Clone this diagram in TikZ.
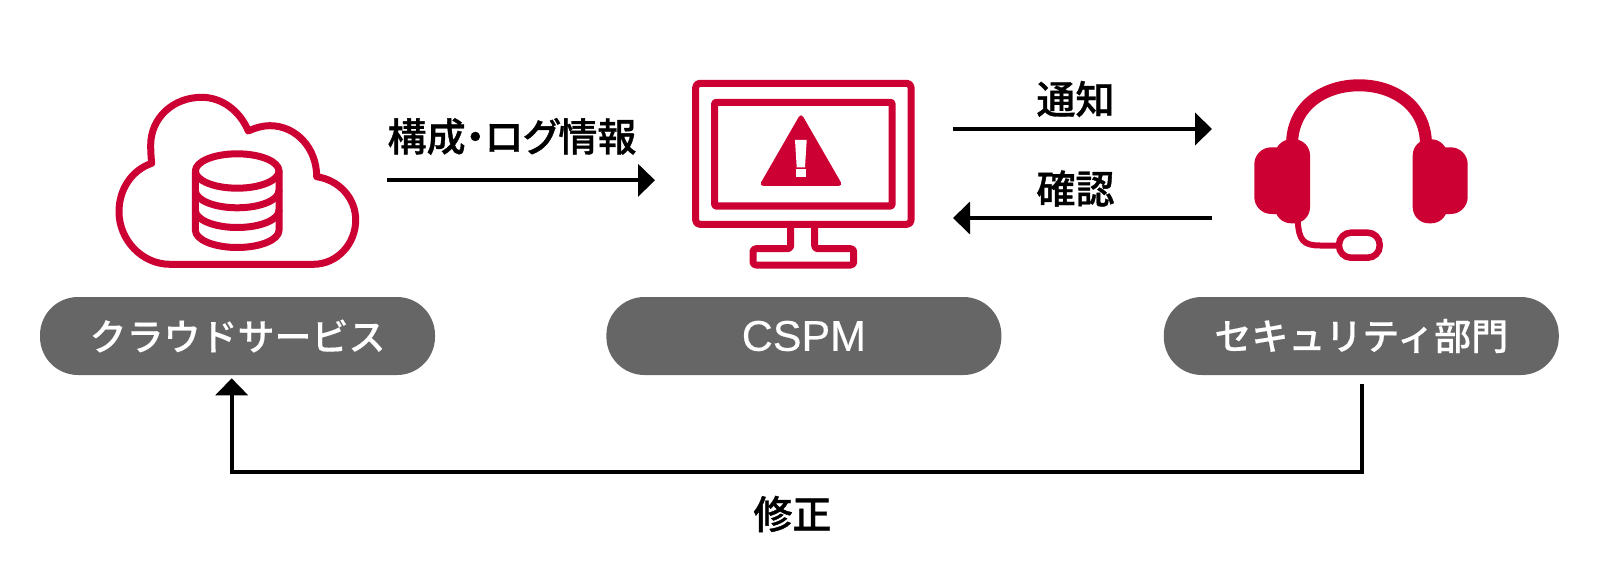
\documentclass[tikz,border=0pt]{standalone}
\usepackage{fontspec}
\usepackage{xcolor}
\usepackage{tikz}
\usetikzlibrary{arrows.meta,positioning,calc}
\setmainfont{Liberation Sans}
\newfontfamily\cspmfont[FakeBold=0.3]{Liberation Sans}
\newfontfamily\cjk[FakeBold=0.3]{Noto Sans CJK JP Medium}
\newfontfamily\cjkp[RawFeature=+palt,FakeBold=0.9]{Noto Sans CJK JP Medium}
\definecolor{rojo}{HTML}{CC0033}
\definecolor{gris}{HTML}{666666}

\begin{document}
\begin{tikzpicture}[x=1pt,y=-1pt,
pill/.style={fill=gris,rounded corners=38pt,minimum width=395pt,minimum height=78pt,inner sep=0pt,text=white,font=\fontsize{37}{37}\selectfont\cjk},
iconbox/.style={inner sep=0pt,outer sep=0pt,minimum height=180pt},
lbl/.style={inner sep=0pt,font=\fontsize{39}{39}\selectfont\cjkp},
arr/.style={-{Triangle[length=17pt,width=32pt]},line width=4pt},
trazo/.style={draw=rojo,line width=7pt,line join=round,line cap=round}
]
\useasboundingbox (0,0) rectangle (1600,580);

\node[pill] (cloudpill) at (237.5,336) {クラウドサービス};
\node[pill,right=171pt of cloudpill] (cspmpill) {\fontsize{43}{43}\selectfont\cspmfont CSPM};
\node[pill,right=162pt of cspmpill] (secpill) {セキュリティ部門};

\node[iconbox,minimum width=300pt] (cloud) at (237,180.3) {};
\node[iconbox,minimum width=298pt] (monitor) at (804,180.3) {};
\node[iconbox,minimum width=290pt] (headset) at (1357,180.3) {};

% nube
\draw[trazo] (170,264.3) -- (313.3,264.3) .. controls (337,264.3) and (355.7,244) .. (355.7,220)
  .. controls (355.7,198) and (339,180) .. (316.7,176.7) .. controls (316.7,148) and (296,125.7) .. (270,125.7)
  .. controls (262,125.7) and (255,128) .. (248.3,131) .. controls (240,111) and (222,97.3) .. (201.7,97.3)
  .. controls (173,97.3) and (150.7,118) .. (150.7,145) .. controls (150.7,151) and (151,157) .. (151.7,163.3)
  .. controls (132,170) and (119,189) .. (119,211.7) .. controls (119,240) and (142,264.3) .. (170,264.3) -- cycle;
\draw[trazo] (237.2,171) ellipse [x radius=41.8pt,y radius=17.2pt];
\draw[trazo] (195.4,171) -- (195.4,230.3) arc[start angle=180,end angle=360,x radius=41.8pt,y radius=17.2pt] -- (279,171);
\foreach \yy in {190.6,210.3}
  \draw[trazo] (195.4,\yy) arc[start angle=180,end angle=360,x radius=41.8pt,y radius=17.2pt];

% monitor
\draw[trazo,rounded corners=4pt] (695.7,83.3) rectangle (911,224.3);
\draw[trazo,rounded corners=1pt] (714.7,102.3) rectangle (892,206);
\draw[trazo,rounded corners=3pt] (790.7,224.3) -- (790.7,248.7) -- (753,248.7) -- (753,265) -- (853.7,265) -- (853.7,248.7) -- (814.7,248.7) -- (814.7,224.3);
\fill[rojo,rounded corners=4.5pt] (801,113) -- (843,186) -- (759,186) -- cycle;
\fill[white] (795,140) -- (806.7,140) -- (805,167.3) -- (796.7,167.3) -- cycle;
\fill[white] (796,169.3) rectangle (805.7,177.3);

% auriculares
\draw[rojo,line width=12pt] (1292,145) .. controls (1292,105) and (1325,85.3) .. (1359,85.3) .. controls (1393,85.3) and (1426,105) .. (1426,145);
\fill[rojo,rounded corners=16pt] (1275,139.3) rectangle (1310,223.3);
\fill[rojo,rounded corners=17pt] (1254.3,147.3) rectangle (1295,214);
\fill[rojo,rounded corners=16pt] (1412.7,139.3) rectangle (1447.3,223.3);
\fill[rojo,rounded corners=17pt] (1427,147.3) rectangle (1467.7,214);
\draw[rojo,line width=6pt] (1297.7,221) .. controls (1299,240) and (1303,245.5) .. (1320,245.5) -- (1339,245.5);
\draw[rojo,line width=6.5pt,rounded corners=12pt] (1339,232.7) rectangle (1379.7,257.7);

\draw[arr] (cloud.east) -- (monitor.west);
\draw[arr] ([yshift=51.3pt]monitor.east) -- ([yshift=51.3pt]headset.west);
\draw[arr] ([yshift=-37.7pt]headset.west) -- ([yshift=-37.7pt]monitor.east);
\coordinate (fixstart) at (1362,384.3);
\coordinate (fixturn) at (231.7,472.3);
\coordinate (fixend) at (231.7,378.3);
\draw[arr] (fixstart) |- (fixturn) -- (fixend);

\node[lbl] (logs) at (512,136.5) {構成・ログ情報};
\node[lbl] (notice) at (1075.5,99) {通知};
\node[lbl] (check) at (1075.5,188.5) {確認};
\node[lbl] (fix) at (792.5,514) {修正};
\end{tikzpicture}
\end{document}
